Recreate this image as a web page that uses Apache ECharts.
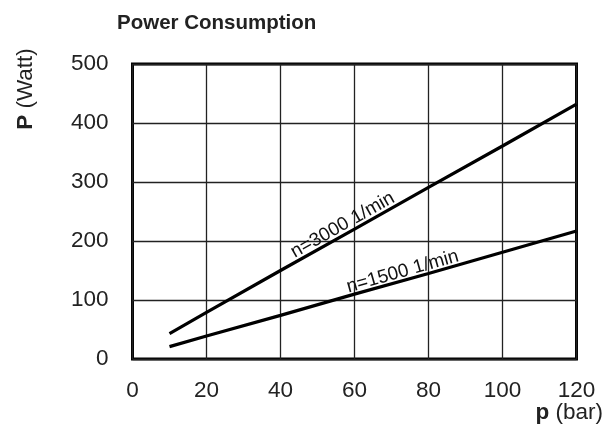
<!DOCTYPE html>
<html><head><meta charset="utf-8">
<script src="https://cdn.jsdelivr.net/npm/echarts@6/dist/echarts.min.js"></script>
<style>html,body{margin:0;padding:0;background:#fff}#c{width:609px;height:433px}</style>
</head><body><div id="c"></div>
<script>
var pressure = [10, 20, 40, 60, 80, 100, 120];
var p3000 = [43, 79, 150, 220, 291, 361, 432];
var p1500 = [21, 39, 74, 110, 145, 181, 217];
var xTicks = [0, 20, 40, 60, 80, 100, 120];
var yTicks = [0, 100, 200, 300, 400, 500];
var label3000 = 'n=3000 1/min';
var label1500 = 'n=1500 1/min';
var titleText = 'Power Consumption';
var xNameBold = 'p', xNameRest = ' (bar)';
var yNameBold = 'P', yNameRest = ' (Watt)';

var chart = echarts.init(document.getElementById('c'), null, {renderer: 'canvas'});
var font = 'Liberation Sans, Arial, sans-serif';
function pairs(xs, ys) { return xs.map(function (x, i) { return [x, ys[i]]; }); }

var option = {
  animation: false,
  backgroundColor: '#fff',
  title: {
    text: titleText, left: 112, top: 8,
    textStyle: {fontFamily: font, fontSize: 20.5, fontWeight: 'bold', color: '#222'}
  },
  grid: {left: 132.5, right: 32.5, top: 64, bottom: 74, containLabel: false, outerBoundsMode: 'none',
    show: true, borderColor: '#000', borderWidth: 3, backgroundColor: 'transparent'},
  xAxis: {
    type: 'value', min: xTicks[0], max: xTicks[xTicks.length - 1], interval: 20,
    axisLine: {show: false}, axisTick: {show: false},
    splitLine: {show: true, lineStyle: {color: '#222', width: 1.3}},
    axisLabel: {fontFamily: font, fontSize: 22.5, color: '#222', margin: 20}
  },
  yAxis: {
    type: 'value', min: yTicks[0], max: yTicks[yTicks.length - 1], interval: 100,
    axisLine: {show: false}, axisTick: {show: false},
    splitLine: {show: true, lineStyle: {color: '#222', width: 1.3}},
    axisLabel: {fontFamily: font, fontSize: 22.5, color: '#222', margin: 24}
  },
  series: [
    {type: 'line', data: pairs(pressure, p3000), symbol: 'none', lineStyle: {color: '#000', width: 3.2}},
    {type: 'line', data: pairs(pressure, p1500), symbol: 'none', lineStyle: {color: '#000', width: 3.2}}
  ]
};
chart.setOption(option);

function slopeAngle(xs, ys) {
  var a = chart.convertToPixel({gridIndex: 0}, [xs[0], ys[0]]);
  var b = chart.convertToPixel({gridIndex: 0}, [xs[xs.length - 1], ys[ys.length - 1]]);
  return Math.atan2(a[1] - b[1], b[0] - a[0]);
}
var c3000 = chart.convertToPixel({gridIndex: 0}, [56.8, 227]);
var c1500 = chart.convertToPixel({gridIndex: 0}, [73, 148]);
var ang3000 = slopeAngle(pressure, p3000);
var ang1500 = slopeAngle(pressure, p1500);
var rich = {b: {fontFamily: font, fontSize: 22.5, fontWeight: 'bold', fill: '#222'}, n: {fontFamily: font, fontSize: 22.5, fill: '#222'}};
chart.setOption({
  graphic: [
    {type: 'text', x: c3000[0], y: c3000[1], rotation: ang3000,
      style: {text: label3000, fontFamily: font, fontSize: 19, fill: '#111', align: 'center', verticalAlign: 'middle'}},
    {type: 'text', x: c1500[0], y: c1500[1], rotation: ang1500,
      style: {text: label1500, fontFamily: font, fontSize: 19, fill: '#111', align: 'center', verticalAlign: 'middle'}},
    {type: 'text', x: 26, y: 89, rotation: Math.PI / 2,
      style: {text: '{b|' + yNameBold + '}{n|' + yNameRest + '}', rich: rich, align: 'center', verticalAlign: 'middle'}},
    {type: 'text', x: 603, y: 413,
      style: {text: '{b|' + xNameBold + '}{n|' + xNameRest + '}', rich: rich, align: 'right', verticalAlign: 'middle'}}
  ]
});
</script></body></html>
